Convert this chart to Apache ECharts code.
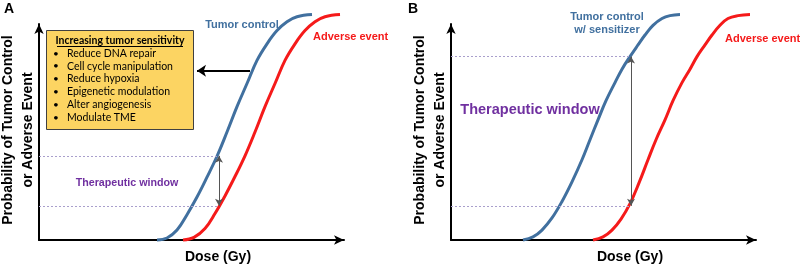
<!DOCTYPE html>
<html>
<head>
<meta charset="utf-8">
<script src="https://cdn.jsdelivr.net/npm/echarts@6/dist/echarts.min.js"></script>
<style>
html,body{margin:0;padding:0;background:#fff}
#main{width:800px;height:272px}
</style>
</head>
<body>
<div id="main"></div>
<script>
// panel A: tumor control vs adverse event
var doseBlueA = [11.8, 12.8, 13.8, 14.8, 15.8, 16.8, 17.8, 18.8, 19.8, 20.8, 21.8, 22.8, 23.8, 24.8, 25.8, 27.3];
var probBlueA = [0, 0.9, 4.5, 11.5, 19.5, 28.5, 38, 49, 60.5, 71, 81.5, 89, 95, 99, 101.3, 102.3];
var doseRedA = [14.4, 15.5, 16.6, 17.6, 18.6, 19.6, 20.6, 21.6, 22.6, 23.6, 24.6, 25.6, 26.6, 27.6, 28.6, 30.1];
var probRedA = [0, 1.2, 5.2, 12, 20, 28.8, 38.2, 49, 60.5, 71, 81.5, 89, 95, 99, 101.3, 102.3];
// [dose, low, high]
var windowA = [18.0, 15.5, 38.2];
// big arrow pointing at the box: [from dose, to dose, prob]
var pushArrowA = [21.1, 15.8, 76.8];

// panel B: with sensitizer
var doseBlueB = [7.2, 8.2, 9.1, 10.1, 11.1, 12.1, 13.1, 13.9, 14.7, 15.5, 16.4, 17.1, 17.9, 18.7, 19.4, 20.2, 21.1, 21.9, 22.9];
var probBlueB = [0, 1.4, 4.5, 10.0, 17.5, 26.4, 36.4, 45.5, 54.5, 63.2, 71.4, 77.5, 83.2, 88.5, 93.0, 97.4, 100.5, 101.8, 102.3];
var doseRedB = [14.2, 15.2, 16.1, 17.0, 17.9, 18.8, 19.7, 20.5, 21.4, 22.2, 23.1, 23.9, 24.6, 25.4, 26.1, 26.9, 27.7, 28.7, 29.9];
var probRedB = [0, 1.4, 4.5, 9.5, 16.5, 25.9, 36.4, 45.5, 54.5, 63.2, 71.4, 77.5, 83.2, 88.5, 93.0, 97.4, 100.5, 101.8, 102.3];
var windowB = [18.0, 15.5, 83.2];

var boxItems = ['Reduce DNA repair', 'Cell cycle manipulation', 'Reduce hypoxia',
    'Epigenetic modulation', 'Alter angiogenesis', 'Modulate TME'];

var blue = '#41709f';
var red = '#f51a1a';
var purple = '#7030a0';
var bold = 'bold 14px "Liberation Sans", Arial, sans-serif';

function pairs(xs, ys) {
    var out = [];
    for (var i = 0; i < xs.length; i++) {
        out.push([xs[i], ys[i]]);
    }
    return out;
}

function curve(idx, xs, ys, color) {
    return {
        type: 'line',
        xAxisIndex: idx,
        yAxisIndex: idx,
        data: pairs(xs, ys),
        smooth: 0.4,
        showSymbol: false,
        symbol: 'none',
        clip: false,
        silent: true,
        lineStyle: {color: color, width: 3}
    };
}

function windowArrow(w) {
    return {
        silent: true,
        animation: false,
        symbol: ['arrow', 'arrow'],
        symbolSize: [6, 7],
        label: {show: false},
        lineStyle: {color: '#555', width: 1, type: 'solid'},
        itemStyle: {color: '#222'},
        data: [[{coord: [w[0], w[1]]}, {coord: [w[0], w[2]]}]]
    };
}

function windowDash(w) {
    return {
        silent: true,
        animation: false,
        symbol: ['none', 'none'],
        label: {show: false},
        lineStyle: {color: '#a99fcc', width: 1, type: [2, 2]},
        data: [
            [{coord: [0, w[2]]}, {coord: [w[0], w[2]]}],
            [{coord: [0, w[1]]}, {coord: [w[0], w[1]]}]
        ]
    };
}

function xAx(idx) {
    return {
        type: 'value', gridIndex: idx, min: 0, max: 30.5,
        axisLine: {show: true, symbol: ['none', 'arrow'], symbolSize: [7, 10], lineStyle: {color: '#000', width: 2}},
        axisTick: {show: false}, axisLabel: {show: false}, splitLine: {show: false}
    };
}
function yAx(idx) {
    return {
        type: 'value', gridIndex: idx, min: 0, max: 98,
        axisLine: {show: true, symbol: ['none', 'arrow'], symbolSize: [7, 10], lineStyle: {color: '#000', width: 2}},
        axisTick: {show: false}, axisLabel: {show: false}, splitLine: {show: false}
    };
}

var sA = curve(0, doseBlueA, probBlueA, blue);
sA.markLine = windowArrow(windowA);
var rA = curve(0, doseRedA, probRedA, red);
rA.markLine = windowDash(windowA);
var sB = curve(1, doseBlueB, probBlueB, blue);
sB.markLine = windowArrow(windowB);
var rB = curve(1, doseRedB, probRedB, red);
rB.markLine = windowDash(windowB);
var pushA = {
    type: 'line', xAxisIndex: 0, yAxisIndex: 0, data: [], silent: true,
    markLine: {
        silent: true, animation: false,
        symbol: ['none', 'arrow'], symbolSize: [9, 9],
        label: {show: false},
        lineStyle: {color: '#000', width: 2, type: 'solid'},
        itemStyle: {color: '#000'},
        data: [[{coord: [pushArrowA[0], pushArrowA[2]]}, {coord: [pushArrowA[1], pushArrowA[2]]}]]
    }
};

function txt(x, y, s, font, color, align, rot) {
    return {
        type: 'text', x: x, y: y, rotation: rot || 0, silent: true,
        style: {
            text: s, font: font, fill: color,
            textAlign: align || 'center', textVerticalAlign: 'middle',
            align: align || 'center', verticalAlign: 'middle', lineHeight: 20
        }
    };
}

var graphics = [
    txt(4, 9, 'A', bold, '#000', 'left'),
    txt(408, 9, 'B', bold, '#000', 'left'),
    txt(18, 130, 'Probability of Tumor Control\nor Adverse Event', bold, '#000', 'center', Math.PI / 2),
    txt(430, 130, 'Probability of Tumor Control\nor Adverse Event', bold, '#000', 'center', Math.PI / 2),
    txt(218, 257, 'Dose (Gy)', bold, '#000'),
    txt(630, 257, 'Dose (Gy)', bold, '#000'),
    txt(242, 25, 'Tumor control', 'bold 11px "Liberation Sans", Arial, sans-serif', blue),
    txt(313, 37, 'Adverse event', 'bold 11px "Liberation Sans", Arial, sans-serif', red, 'left'),
    txt(127, 183, 'Therapeutic window', 'bold 10.7px "Liberation Sans", Arial, sans-serif', purple),
    txt(607, 17, 'Tumor control', 'bold 11px "Liberation Sans", Arial, sans-serif', blue),
    txt(607, 30, 'w/ sensitizer', 'bold 11px "Liberation Sans", Arial, sans-serif', blue),
    txt(725, 39, 'Adverse event', 'bold 11px "Liberation Sans", Arial, sans-serif', red, 'left'),
    txt(530, 110, 'Therapeutic window', 'bold 14.5px "Liberation Sans", Arial, sans-serif', purple),
    {
        type: 'rect', silent: true,
        shape: {x: 46.5, y: 30.5, width: 147, height: 99},
        style: {fill: '#fcd462', stroke: '#404040', lineWidth: 1}
    },
    txt(120, 41, 'Increasing tumor sensitivity', 'bold 10.5px Lato, "Open Sans", sans-serif', '#000'),
    {
        type: 'line', silent: true,
        shape: {x1: 57, y1: 46.5, x2: 183, y2: 46.5},
        style: {stroke: '#000', lineWidth: 1}
    }
];
boxItems.forEach(function (s, i) {
    var y = 53.3 + i * 12.9;
    graphics.push(txt(56, y, '\u2022', '10px Lato, sans-serif', '#000'));
    graphics.push(txt(67, y, s, '10.5px Lato, "Open Sans", sans-serif', '#000', 'left'));
});

var chart = echarts.init(document.getElementById('main'));
chart.setOption({
    animation: false,
    grid: [
        {left: 39, top: 24, width: 305, height: 216},
        {left: 451, top: 24, width: 305, height: 216}
    ],
    xAxis: [xAx(0), xAx(1)],
    yAxis: [yAx(0), yAx(1)],
    series: [sA, rA, pushA, sB, rB],
    graphic: graphics
});
</script>
</body>
</html>
